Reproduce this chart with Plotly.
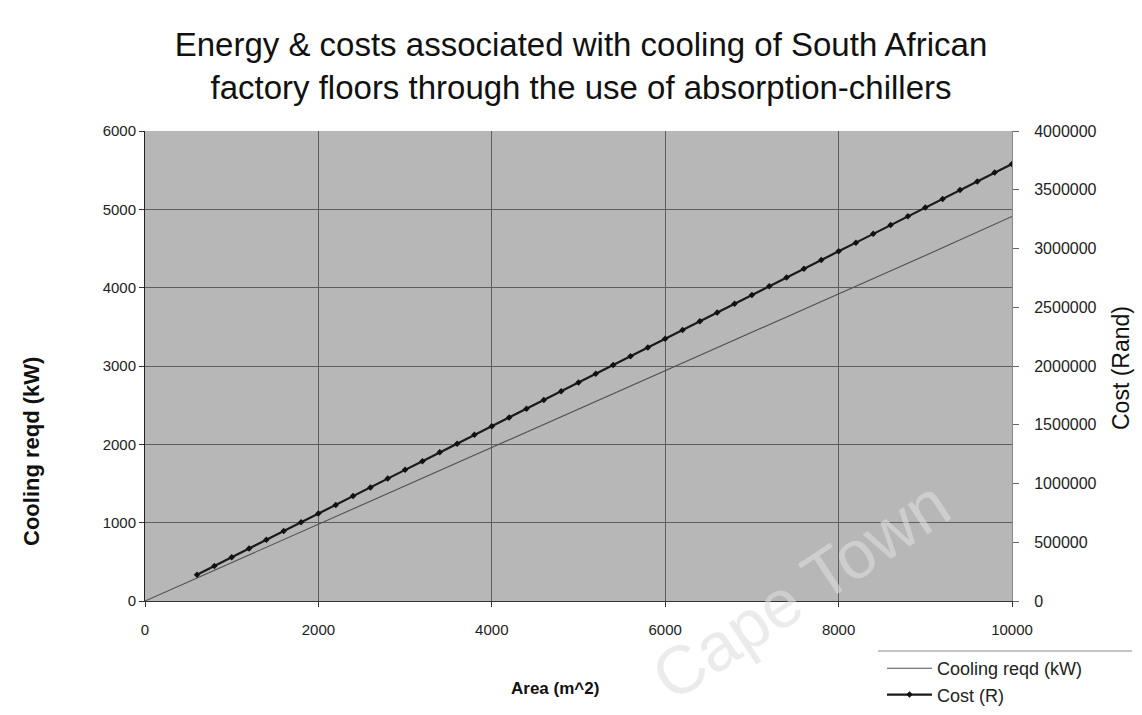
import plotly.graph_objects as go

# ---- data ----
cooling_area = [0, 1000, 2000, 3000, 4000, 5000, 6000, 7000, 8000, 9000, 10000]
cooling_kw = [0, 490, 975, 1465, 1950, 2440, 2930, 3420, 3910, 4410, 4910]

cost_area = [600, 800, 1000, 1200, 1400, 1600, 1800, 2000, 2200, 2400, 2600, 2800,
             3000, 3200, 3400, 3600, 3800, 4000, 4200, 4400, 4600, 4800, 5000, 5200,
             5400, 5600, 5800, 6000, 6200, 6400, 6600, 6800, 7000, 7200, 7400, 7600,
             7800, 8000, 8200, 8400, 8600, 8800, 9000, 9200, 9400, 9600, 9800, 10000]
cost_rand = [223000, 298000, 372000, 446000, 521000, 595000, 670000, 744000, 818000,
             893000, 967000, 1042000, 1116000, 1190000, 1265000, 1339000, 1414000,
             1488000, 1562000, 1637000, 1711000, 1786000, 1860000, 1934000, 2009000,
             2083000, 2158000, 2232000, 2306000, 2381000, 2455000, 2530000, 2604000,
             2678000, 2753000, 2827000, 2902000, 2976000, 3050000, 3125000, 3199000,
             3274000, 3348000, 3422000, 3497000, 3571000, 3646000, 3720000]

x_ticks = [0, 2000, 4000, 6000, 8000, 10000]
x_labels = ["0", "2000", "4000", "6000", "8000", "10000"]
y_ticks = [0, 1000, 2000, 3000, 4000, 5000, 6000]
y_labels = ["0", "1000", "2000", "3000", "4000", "5000", "6000"]
y2_ticks = [0, 500000, 1000000, 1500000, 2000000, 2500000, 3000000, 3500000, 4000000]
y2_labels = ["0", "500000", "1000000", "1500000", "2000000", "2500000",
             "3000000", "3500000", "4000000"]

FONT = "Liberation Sans, Arial, sans-serif"
W, H = 1142, 715
pl, pr, pt, pb = 145, W - 130, 131, H - 114

def to_paper_x(px):
    return (px - pl) / (pr - pl)

def to_paper_y(py):
    return (pb - py) / (pb - pt)

fig = go.Figure()
fig.add_trace(go.Scatter(
    x=cooling_area, y=cooling_kw, name="Cooling reqd (kW)", mode="lines",
    line=dict(color="#505050", width=1.1), yaxis="y"))
fig.add_trace(go.Scatter(
    x=cost_area, y=cost_rand, name="Cost (R)", mode="lines+markers",
    line=dict(color="#1a1a1a", width=2.2),
    marker=dict(symbol="diamond", size=5, color="#111111"), yaxis="y2"))

fig.update_layout(
    width=W, height=H,
    paper_bgcolor="white", plot_bgcolor="#b7b7b7",
    margin=dict(l=pl, r=W - pr, t=pt, b=H - pb, autoexpand=False),
    font=dict(family=FONT, color="#222222"),
    showlegend=True,
    legend=dict(x=882 / W, y=1 - 650 / H, xref="container", yref="container",
                xanchor="left", yanchor="top", bgcolor="rgba(0,0,0,0)",
                font=dict(size=18, color="#222222", family=FONT),
                tracegroupgap=0, itemwidth=45),
    title=dict(text="Energy & costs associated with cooling of South African<br>"
                    "factory floors through the use of absorption-chillers",
               x=581 / W, y=1 - 56 / H, xref="container", yref="container",
               xanchor="center", yanchor="middle",
               font=dict(size=33, color="#111111", family=FONT)),
    xaxis=dict(range=[0, 10000], tickvals=x_ticks, ticktext=x_labels, showgrid=True,
               gridcolor="#5e5e5e", gridwidth=1, zeroline=False,
               showline=True, linecolor="#333333", linewidth=1,
               ticks="outside", ticklen=5, tickcolor="#333333",
               ticklabelstandoff=10,
               tickfont=dict(size=15, family=FONT, color="#222222")),
    yaxis=dict(range=[0, 6000], tickvals=y_ticks, ticktext=y_labels, showgrid=True,
               gridcolor="#5e5e5e", gridwidth=1, zeroline=False,
               showline=True, linecolor="#222222", linewidth=1,
               ticks="outside", ticklen=5, tickcolor="#333333",
               tickfont=dict(size=15, family=FONT, color="#222222")),
    yaxis2=dict(range=[0, 4000000], tickvals=y2_ticks, ticktext=y2_labels,
                overlaying="y", side="right",
                showgrid=False, zeroline=False, showline=True,
                linecolor="#888888", linewidth=1,
                ticks="outside", ticklen=6, tickcolor="#666666",
                ticklabelstandoff=12,
                tickfont=dict(size=16, family=FONT, color="#222222")),
    annotations=[
        dict(text="<b>Cooling reqd (kW)</b>", x=to_paper_x(32), y=to_paper_y(452),
             xref="paper", yref="paper", showarrow=False, textangle=-90,
             font=dict(size=22, family=FONT, color="#111111"),
             xanchor="center", yanchor="middle"),
        dict(text="Cost (Rand)", x=to_paper_x(1121), y=to_paper_y(368),
             xref="paper", yref="paper", showarrow=False, textangle=-90,
             font=dict(size=23, family=FONT, color="#111111"),
             xanchor="center", yanchor="middle"),
        dict(text="<b>Area (m^2)</b>", x=to_paper_x(555), y=to_paper_y(688),
             xref="paper", yref="paper", showarrow=False,
             font=dict(size=17, family=FONT, color="#111111"),
             xanchor="center", yanchor="middle"),
        dict(text="Cape Town", x=to_paper_x(800), y=to_paper_y(590),
             xref="paper", yref="paper", showarrow=False, textangle=-33.5,
             font=dict(size=68, family=FONT, color="rgba(222,222,222,0.6)"),
             xanchor="center", yanchor="middle"),
    ],
    shapes=[
        dict(type="line", xref="paper", yref="paper",
             x0=to_paper_x(878), x1=to_paper_x(1132),
             y0=to_paper_y(651), y1=to_paper_y(651),
             line=dict(color="#888888", width=1)),
    ],
)

fig.write_html("out.html")
